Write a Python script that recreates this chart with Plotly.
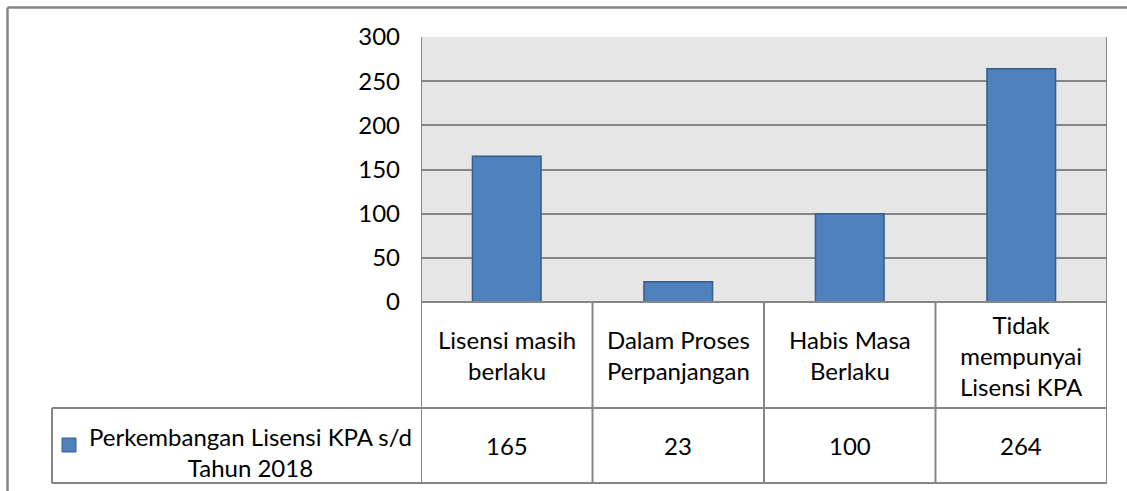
import plotly.graph_objects as go

categories = ["Lisensi masih berlaku", "Dalam Proses Perpanjangan", "Habis Masa Berlaku", "Tidak mempunyai Lisensi KPA"]
category_labels = ["Lisensi masih<br>berlaku", "Dalam Proses<br>Perpanjangan", "Habis Masa<br>Berlaku", "Tidak<br>mempunyai<br>Lisensi KPA"]
values = [165, 23, 100, 264]
series_name = "Perkembangan Lisensi KPA s/d<br>Tahun 2018"
y_ticks = [0, 50, 100, 150, 200, 250, 300]

FONT = "Lato"
FS = 24
BAR = "#4f81bd"
LINE = "#868686"

W, H = 1127, 491
L, R, T, B = 421, 20, 37, 189
pw, ph = W - L - R, H - T - B

def px(x):
    return (x - L) / pw

def py(y):
    return (H - B - y) / ph

fig = go.Figure()
fig.add_trace(go.Bar(
    x=categories, y=values, name=series_name,
    marker=dict(color=BAR, line=dict(color="#385d8a", width=1.5)),
    width=0.4, showlegend=False, hoverinfo="x+y",
))

shapes = []
# outer frame (top and left)
shapes.append(dict(type="line", xref="paper", yref="paper", x0=px(7.5), x1=px(1127), y0=py(7.5), y1=py(7.5), line=dict(color=LINE, width=2.5)))
shapes.append(dict(type="line", xref="paper", yref="paper", x0=px(7.5), x1=px(7.5), y0=py(7.5), y1=py(491), line=dict(color=LINE, width=2.5)))

row1 = py(408)
row2 = py(483)
# horizontal table lines
shapes.append(dict(type="line", xref="paper", yref="paper", x0=0, x1=1, y0=0, y1=0, line=dict(color=LINE, width=2)))
shapes.append(dict(type="line", xref="paper", yref="paper", x0=px(52), x1=1, y0=row1, y1=row1, line=dict(color=LINE, width=2)))
shapes.append(dict(type="line", xref="paper", yref="paper", x0=px(52), x1=1, y0=row2, y1=row2, line=dict(color=LINE, width=2)))
shapes.append(dict(type="line", xref="paper", yref="paper", x0=px(52), x1=px(52), y0=row1, y1=row2, line=dict(color=LINE, width=2)))
# vertical dividers
for i in range(len(categories) + 1):
    shapes.append(dict(type="line", xref="x", yref="paper", x0=i - 0.5, x1=i - 0.5,
                       y0=row2, y1=1 if i in (0, len(categories)) else 0, line=dict(color=LINE, width=2)))
# legend key
shapes.append(dict(type="rect", xref="paper", yref="paper", x0=px(62), x1=px(76), y0=py(452), y1=py(438),
                   fillcolor=BAR, line=dict(color="#385d8a", width=1)))

annotations = []
for cat, lab, v in zip(categories, category_labels, values):
    annotations.append(dict(xref="x", yref="paper", x=cat, y=py(355), text=lab, showarrow=False,
                            font=dict(family=FONT, size=FS, color="#000000"), align="center", yanchor="middle"))
    annotations.append(dict(xref="x", yref="paper", x=cat, y=py(446), text=str(v), showarrow=False,
                            font=dict(family=FONT, size=FS, color="#000000"), align="center", yanchor="middle"))
annotations.append(dict(xref="paper", yref="paper", x=px(250), y=py(452), text=series_name, showarrow=False,
                        font=dict(family=FONT, size=FS, color="#000000"), align="center", yanchor="middle", xanchor="center"))

fig.update_layout(
    width=W, height=H,
    margin=dict(l=L, r=R, t=T, b=B),
    paper_bgcolor="white", plot_bgcolor="#e6e6e6",
    font=dict(family=FONT, size=FS, color="#000000"),
    xaxis=dict(showticklabels=False, showgrid=False, zeroline=False, showline=False, range=[-0.5, 3.5]),
    yaxis=dict(range=[0, 300], tickvals=y_ticks, showgrid=True, gridcolor=LINE, gridwidth=2,
               zeroline=False, showline=False, ticks="", ticklabelstandoff=20),
    shapes=shapes, annotations=annotations,
    bargap=0.6,
)
fig.write_html("out.html", config={"displayModeBar": False},
               post_script="document.body.style.margin='0';document.body.style.padding='0';")
